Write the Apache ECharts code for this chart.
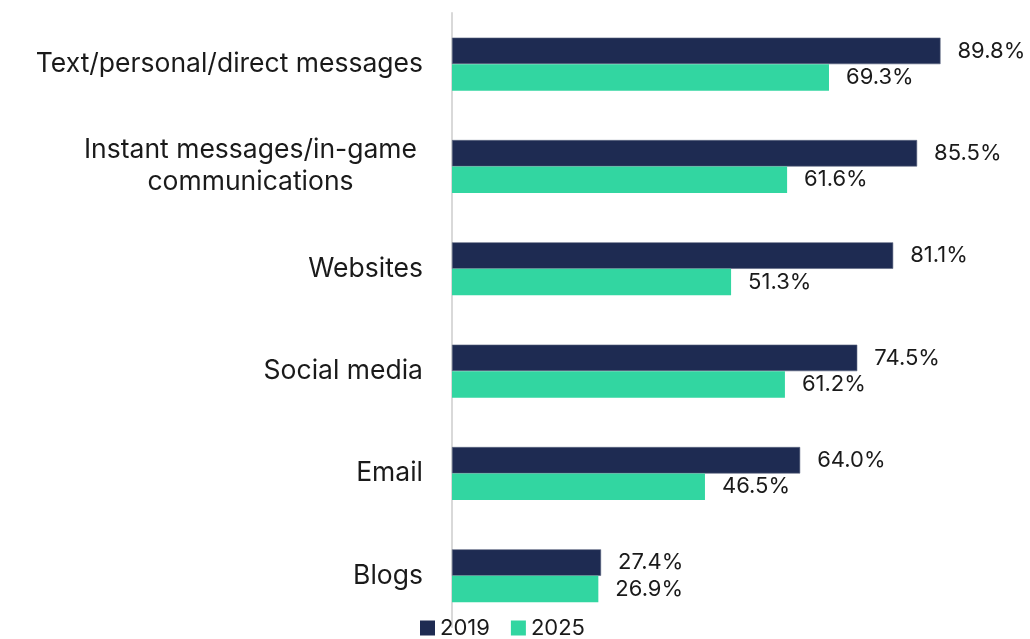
<!DOCTYPE html>
<html>
<head>
<meta charset="utf-8">
<script src="https://cdn.jsdelivr.net/npm/echarts@6/dist/echarts.min.js"></script>
<style>
  html, body { margin: 0; padding: 0; background: #ffffff; }
  #chart { width: 1030px; height: 639px; }
</style>
</head>
<body>
<div id="chart"></div>
<script>
// Channels, top to bottom
const categories = [
  'Text/personal/direct messages',
  'Instant messages/in-game\ncommunications',
  'Websites',
  'Social media',
  'Email',
  'Blogs'
];
const values2019 = [89.8, 85.5, 81.1, 74.5, 64.0, 27.4];
const values2025 = [69.3, 61.6, 51.3, 61.2, 46.5, 26.9];
const seriesNames = ['2019', '2025'];

const FONT = 'Inter, "Noto Sans", sans-serif';
const TEXT = '#1a1a1a';
const CAT_SIZE = 26.5;

const chart = echarts.init(document.getElementById('chart'));

function valueLabel() {
  return {
    show: true,
    position: 'right',
    distance: 17,
    color: TEXT,
    fontFamily: FONT,
    fontSize: 22,
    formatter: p => p.value.toFixed(1) + '%'
  };
}

chart.setOption({
  animation: false,
  grid: { left: 452, right: 34, top: 13, bottom: 12, containLabel: false },
  legend: {
    data: seriesNames,
    bottom: -5,
    left: 415,
    itemWidth: 15,
    itemHeight: 15,
    itemGap: 21,
    icon: 'rect',
    itemStyle: { borderWidth: 0 },
    textStyle: { color: TEXT, fontFamily: FONT, fontSize: 22 }
  },
  xAxis: {
    type: 'value',
    min: 0,
    max: 100,
    show: false
  },
  yAxis: {
    type: 'category',
    inverse: true,
    data: categories,
    axisLine: { show: true, lineStyle: { color: '#d9d9d9', width: 2 } },
    axisTick: { show: false },
    axisLabel: {
      margin: 29,
      color: TEXT,
      fontFamily: FONT,
      fontSize: CAT_SIZE,
      lineHeight: 32,
      formatter: v => {
        if (v.indexOf('\n') >= 0) {
          return v.split('\n').map(s => '{w|' + s + '}').join('\n');
        }
        return v;
      },
      rich: {
        w: { width: 345, align: 'center', color: TEXT, fontFamily: FONT, fontSize: CAT_SIZE, lineHeight: 32 }
      }
    }
  },
  series: [
    {
      name: seriesNames[0],
      type: 'bar',
      data: values2019,
      barWidth: 26.5,
      barGap: '0%',
      itemStyle: { color: '#1e2b52', borderColor: '#5a6480', borderWidth: 0.6 },
      label: valueLabel()
    },
    {
      name: seriesNames[1],
      type: 'bar',
      data: values2025,
      barWidth: 26.5,
      itemStyle: { color: '#32d6a1' },
      label: valueLabel()
    }
  ]
});
</script>
</body>
</html>
